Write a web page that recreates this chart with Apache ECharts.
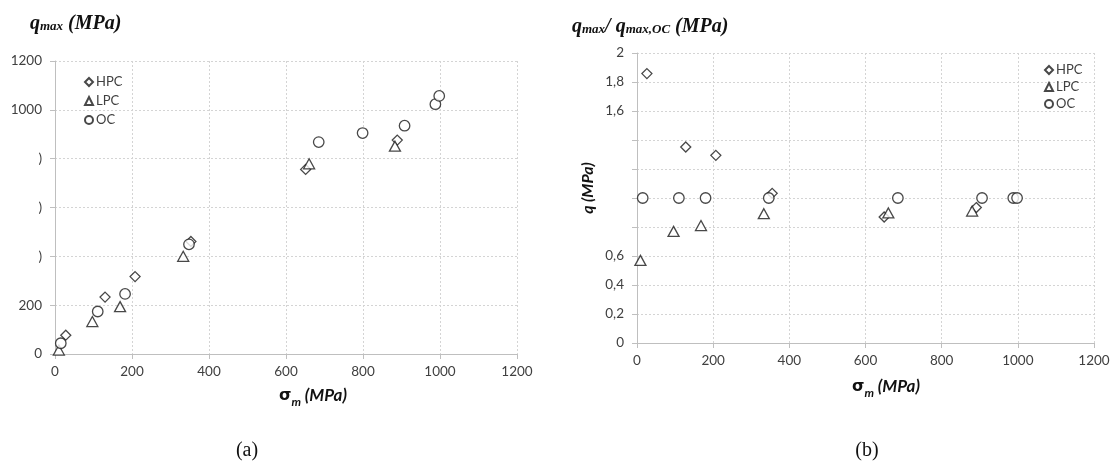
<!DOCTYPE html>
<html><head><meta charset="utf-8">
<script src="https://cdn.jsdelivr.net/npm/echarts@6/dist/echarts.min.js"></script>
<style>html,body{margin:0;padding:0;background:#fff}#c{width:1113px;height:466px}</style>
</head><body><div id="c"></div>
<script>
// ---- data (a): q_max vs sigma_m ----
const hpcA_x = [28, 130, 208, 353, 651, 889];
const hpcA_y = [77, 233, 317, 461, 756, 876];
const lpcA_x = [10, 97, 169, 333, 660, 883];
const lpcA_y = [16, 133, 194, 400, 779, 851];
const ocA_x  = [15, 111, 182, 348, 685, 799, 908, 988, 998];
const ocA_y  = [44, 174, 246, 449, 868, 905, 935, 1023, 1057];
// ---- data (b): q_max / q_max,OC vs sigma_m ----
const hpcB_x = [26, 128, 207, 355, 649, 891];
const hpcB_y = [1.858, 1.352, 1.294, 1.032, 0.869, 0.934];
const lpcB_x = [9, 96, 168, 333, 660, 880];
const lpcB_y = [0.570, 0.770, 0.810, 0.892, 0.897, 0.910];
const ocB_x  = [15, 110, 180, 346, 685, 906, 988, 998];
const ocB_y  = [1, 1, 1, 1, 1, 1, 1, 1];
// tick labels
const xTicks = [0, 200, 400, 600, 800, 1000, 1200];
const yTicksA = {0:'0', 200:'200', 400:')', 600:')', 800:')', 1000:'1000', 1200:'1200'};
const yTicksB = {'0':'0','0.2':'0,2','0.4':'0,4','0.6':'0,6','0.8':'','1':'','1.2':'','1.4':'','1.6':'1,6','1.8':'1,8','2':'2'};
const seriesNames = ['HPC', 'LPC', 'OC'];

const zip = (xs, ys) => xs.map((x, i) => [x, ys[i]]);
const FONT = 'Lato';
const tickColor = '#404040';
const axisCol = '#bfbfbf';
const gridCol = '#d4d4d4';
const symStyle = {color: '#ffffff', borderColor: '#1a1a1a', borderWidth: 1.3};

function xAxisDef(gi) {
  return {
    gridIndex: gi, type: 'value', min: 0, max: 1200, interval: 200,
    axisLine: {show: true, lineStyle: {color: axisCol, width: 1}},
    axisTick: {show: true, length: 5, lineStyle: {color: axisCol}},
    splitLine: {show: true, lineStyle: {color: gridCol, type: [2, 2], width: 1}},
    axisLabel: {color: tickColor, fontFamily: FONT, fontSize: 13.5, margin: 11,
      formatter: v => String(v)}
  };
}
function yAxisDef(gi, max, interval, map) {
  return {
    gridIndex: gi, type: 'value', min: 0, max: max, interval: interval,
    axisLine: {show: true, lineStyle: {color: axisCol, width: 1}},
    axisTick: {show: true, length: 5, lineStyle: {color: axisCol}},
    splitLine: {show: true, lineStyle: {color: gridCol, type: [2, 2], width: 1}},
    axisLabel: {color: tickColor, fontFamily: FONT, fontSize: 13.5, margin: 13,
      formatter: v => { const k = String(Math.round(v * 10) / 10); return (k in map) ? map[k] : k; }}
  };
}
function sc(name, data, sym, size, gi) {
  return {name: name, type: 'scatter', xAxisIndex: gi, yAxisIndex: gi, data: data,
    symbol: sym, symbolSize: size, itemStyle: symStyle, z: 3};
}

const titleA = {a: {fontFamily: 'Liberation Serif', fontStyle: 'italic', fontWeight: 'bold', fontSize: 20, fill: '#111'},
  b: {fontFamily: 'Liberation Serif', fontStyle: 'italic', fontWeight: 'bold', fontSize: 13, fill: '#111', verticalAlign: 'bottom', padding: [0, 0, 1, 0]}};
const axNameRich = {
  s: {fontFamily: 'DejaVu Sans', fontWeight: 'bold', fontSize: 16, fill: '#111'},
  m: {fontFamily: FONT, fontStyle: 'italic', fontWeight: 'bold', fontSize: 12, fill: '#111', verticalAlign: 'bottom', padding: [0, 0, -4, 0]},
  t: {fontFamily: FONT, fontStyle: 'italic', fontWeight: 'bold', fontSize: 17, fill: '#111'}
};

const legendData = [{name: 'HPC', icon: 'diamond'}, {name: 'LPC', icon: 'triangle'}, {name: 'OC', icon: 'circle'}];
const chart = echarts.init(document.getElementById('c'));
chart.setOption({
  animation: false,
  backgroundColor: '#ffffff',
  grid: [
    {left: 55, top: 61, width: 462, height: 293, containLabel: false},
    {left: 637, top: 53, width: 457, height: 290, containLabel: false}
  ],
  xAxis: [xAxisDef(0), xAxisDef(1)],
  yAxis: [yAxisDef(0, 1200, 200, yTicksA), yAxisDef(1, 2, 0.2, yTicksB)],
  legend: [
    {data: legendData,
     orient: 'vertical', left: 79, top: 70, itemWidth: 8, itemHeight: 8, itemGap: 5,
     textStyle: {fontFamily: FONT, fontSize: 13, color: '#404040', lineHeight: 14, padding: [0, 0, 0, -2]}},
    {data: legendData,
     orient: 'vertical', left: 1039, top: 58, itemWidth: 8, itemHeight: 8, itemGap: 3,
     textStyle: {fontFamily: FONT, fontSize: 13, color: '#404040', lineHeight: 14, padding: [0, 0, 0, -2]}}
  ],
  series: [
    sc(seriesNames[0], zip(hpcA_x, hpcA_y), 'diamond', 10, 0),
    sc(seriesNames[1], zip(lpcA_x, lpcA_y), 'triangle', [11, 10], 0),
    sc(seriesNames[2], zip(ocA_x, ocA_y), 'circle', 10.5, 0),
    sc(seriesNames[0], zip(hpcB_x, hpcB_y), 'diamond', 10, 1),
    sc(seriesNames[1], zip(lpcB_x, lpcB_y), 'triangle', [11, 10], 1),
    sc(seriesNames[2], zip(ocB_x, ocB_y), 'circle', 10.5, 1)
  ],
  graphic: [
    {type: 'text', x: 30, y: 24, style: {text: '{a|q}{b|max}{a| (MPa)}', rich: titleA, verticalAlign: 'middle', align: 'left'}},
    {type: 'text', x: 572, y: 27, style: {text: '{a|q}{b|max}{a|/ q}{b|max,OC}{a| (MPa)}', rich: titleA, verticalAlign: 'middle', align: 'left'}},
    {type: 'text', x: 313, y: 396, style: {text: '{s|σ}{m|m}{t| (MPa)}', rich: axNameRich, align: 'center', verticalAlign: 'middle'}},
    {type: 'text', x: 886, y: 387, style: {text: '{s|σ}{m|m}{t| (MPa)}', rich: axNameRich, align: 'center', verticalAlign: 'middle'}},
    {type: 'text', x: 588, y: 188, rotation: Math.PI / 2,
     style: {text: 'q (MPa)', fontFamily: FONT, fontStyle: 'italic', fontWeight: 'bold', fontSize: 16, fill: '#111', align: 'center', verticalAlign: 'middle'}},
    {type: 'text', x: 247, y: 451, style: {text: '(a)', fontFamily: 'Liberation Serif', fontSize: 20, fill: '#111', align: 'center', verticalAlign: 'middle'}},
    {type: 'text', x: 867, y: 451, style: {text: '(b)', fontFamily: 'Liberation Serif', fontSize: 20, fill: '#111', align: 'center', verticalAlign: 'middle'}}
  ]
});
</script>
</body></html>
